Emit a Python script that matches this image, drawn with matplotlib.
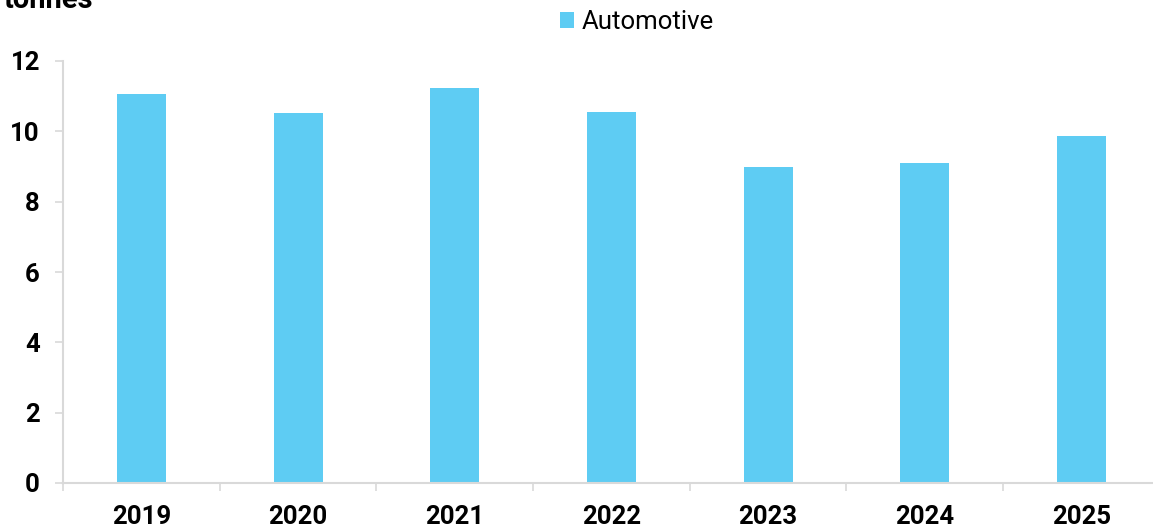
import matplotlib.pyplot as plt
from matplotlib.patches import Patch

years = ["2019", "2020", "2021", "2022", "2023", "2024", "2025"]
automotive = [11.07, 10.52, 11.23, 10.56, 9.00, 9.10, 9.87]
y_ticks = [0, 2, 4, 6, 8, 10, 12]

plt.rcParams['font.family'] = ['Roboto', 'DejaVu Sans']

W, H = 1153, 527
fig = plt.figure(figsize=(W / 100, H / 100), dpi=100)
ax = fig.add_axes([63 / W, 1 - 483 / H, 7 * 156.7 / W, (483 - 61) / H])

bar_color = "#5ECCF3"
grid_color = "#d9d9d9"
x = list(range(len(years)))
ax.bar(x, automotive, width=0.313, color=bar_color, zorder=2)

ax.set_xlim(-0.5, len(years) - 0.5)
ax.set_ylim(0, 12)
ax.set_yticks(y_ticks)
ax.set_yticklabels([str(v) for v in y_ticks], fontsize=18.5, fontweight='bold')
ax.set_xticks(x)
ax.set_xticklabels(years, fontsize=18.5, fontweight='bold')

# category boundary ticks on the x axis
ax.set_xticks([i - 0.5 for i in range(len(years) + 1)], minor=True)
ax.tick_params(axis='x', which='major', length=0, pad=15.5)
ax.tick_params(axis='x', which='minor', length=5.8, width=1.2, color=grid_color)
ax.tick_params(axis='y', length=5.8, width=1.2, color=grid_color, pad=10.8)

for side in ('top', 'right'):
    ax.spines[side].set_visible(False)
for side in ('left', 'bottom'):
    ax.spines[side].set_color(grid_color)
    ax.spines[side].set_linewidth(1.5)

fig.text(93 / W, 1 - 8 / H, "tonnes", ha='right', va='baseline',
         fontsize=21, fontweight='bold')

handle = Patch(facecolor=bar_color, edgecolor='none', label="Automotive")
fig.legend(handles=[handle], loc='center', bbox_to_anchor=(637 / W, 1 - 22 / H),
           frameon=False, fontsize=18.5, handlelength=0.55, handleheight=0.55,
           handletextpad=0.3, borderpad=0)

fig.savefig("out.png", dpi=100)
